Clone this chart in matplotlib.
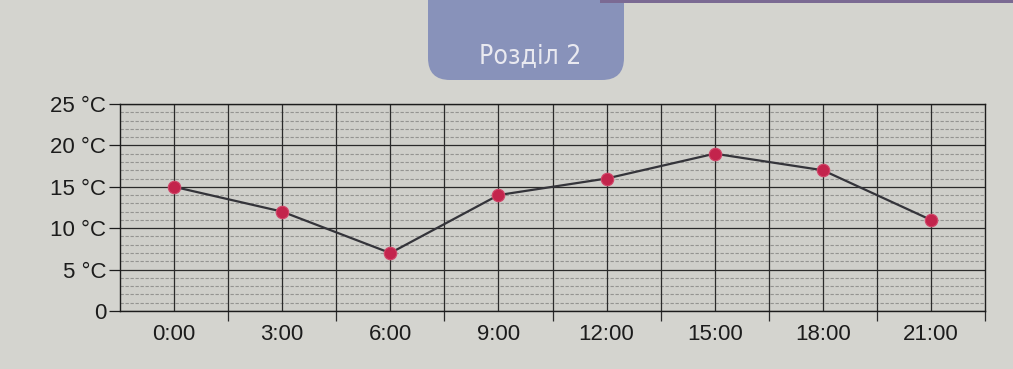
import matplotlib
matplotlib.use("Agg")
import matplotlib.pyplot as plt
from matplotlib.patches import FancyBboxPatch, Rectangle
from matplotlib.transforms import IdentityTransform
from matplotlib.ticker import FixedLocator

# Temperature readings over one day
hours = [0, 3, 6, 9, 12, 15, 18, 21]
hour_labels = ["0:00", "3:00", "6:00", "9:00", "12:00", "15:00", "18:00", "21:00"]
temps = [15, 12, 7, 14, 16, 19, 17, 11]
y_ticks = [0, 5, 10, 15, 20, 25]
y_labels = ["0", "5 °C", "10 °C", "15 °C", "20 °C", "25 °C"]
section_title = "Розділ 2"

W, H, DPI = 1013, 369, 100
plt.rcParams["font.family"] = ["Liberation Sans", "DejaVu Sans"]

fig = plt.figure(figsize=(W / DPI, H / DPI), dpi=DPI, facecolor="#d4d4cf")

# Section tab at the top of the page
tab = FancyBboxPatch((428, H - 80), 196, 120,
                     boxstyle="round,pad=0,rounding_size=22",
                     transform=IdentityTransform(), facecolor="#8892ba",
                     edgecolor="none", zorder=0)
fig.patches.append(tab)
strip = Rectangle((600, H - 3), W - 600, 3, transform=IdentityTransform(),
                  facecolor="#7b6a93", edgecolor="none", zorder=0)
fig.patches.append(strip)
fig.text(530 / W, 1 - 56 / H, section_title, ha="center", va="center",
         fontsize=19, color="#e9e9f0", family="DejaVu Sans",
         fontstretch="condensed")

left, right, top, bottom = 120, 985, 104, 311
ax = fig.add_axes([left / W, (H - bottom) / H, (right - left) / W, (bottom - top) / H])
ax.set_facecolor("#cfcfca")

ax.set_xlim(-1.5, 22.5)
ax.set_ylim(0, 25)

# Minor dashed rules at every degree
for v in range(1, 25):
    if v % 5:
        ax.axhline(v, color="#949491", lw=0.8, ls=(0, (3, 1.5)), zorder=1)
# Major horizontal rules
ax.yaxis.set_major_locator(FixedLocator(y_ticks))
ax.set_yticklabels(y_labels)
ax.grid(axis="y", which="major", color="#2a2a2a", lw=0.9, zorder=2)

# Vertical rules every 1.5 hours; short ticks below the axis between hours
half_steps = [h + 1.5 for h in hours]
ax.xaxis.set_major_locator(FixedLocator(hours))
ax.set_xticklabels(hour_labels)
ax.xaxis.set_minor_locator(FixedLocator(half_steps))
for xv in hours + half_steps[:-1]:
    ax.axvline(xv, color="#2a2a2a", lw=0.9, zorder=2)

ax.tick_params(axis="x", which="major", length=0, pad=9, labelsize=16, colors="#1c1c1c")
ax.tick_params(axis="x", which="minor", length=7, width=0.9, color="#2a2a2a")
ax.tick_params(axis="y", which="major", length=8, width=0.9, pad=2, labelsize=16,
               colors="#1c1c1c")

for s in ax.spines.values():
    s.set_color("#1c1c1c")
    s.set_linewidth(1.0)

ax.plot(hours, temps, color="#34343a", lw=1.6, zorder=4,
        marker="o", markersize=9, markerfacecolor="#c3244c",
        markeredgecolor="#d2476a", markeredgewidth=0.8)

fig.savefig("out.png", dpi=DPI, facecolor=fig.get_facecolor())
